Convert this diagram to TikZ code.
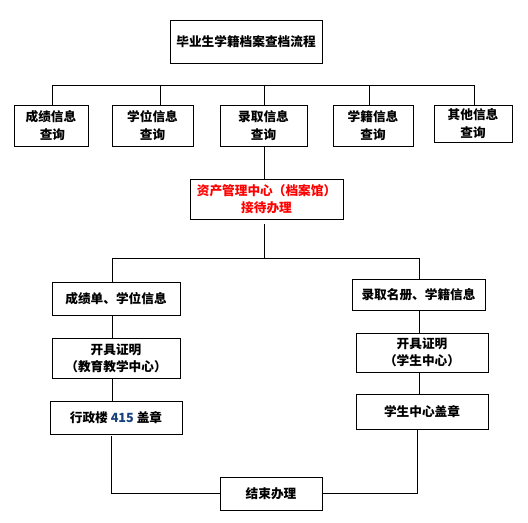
\documentclass[tikz,border=0pt]{standalone}
\usepackage{fontspec}
\newfontfamily\cjk{Noto Sans CJK SC}
\usepackage{xcolor}
\definecolor{numblue}{RGB}{25,65,125}
\usetikzlibrary{positioning}

\begin{document}
\begin{tikzpicture}[x=0.75pt,y=-0.75pt,
		box/.style={draw, line width=0.7pt, inner sep=0pt, align=center, font=\cjk\bfseries\fontsize{9.5}{13}\selectfont},
		size/.style 2 args={minimum width=#1*0.75pt, minimum height=#2*0.75pt},
		link/.style={line width=0.7pt}]
			\useasboundingbox (0,0) rectangle (528,522);

			% title
			\node[box, size={152}{43}] (title) at (246,41.5) {毕业生学籍档案查档流程};

			% query boxes
			\node[box, size={74}{41}] (q1) at (51,125.5) {成绩信息\\\ 查询};
			\node[box, size={81}{41}] (q2) at (152.5,125.5) {学位信息\\查询};
			\node[box, size={87}{41}] (q3) at (263.5,125.5) {录取信息\\查询};
			\node[box, size={80}{41}] (q4) at (373,125.5) {学籍信息\\查询};
			\node[box, size={78}{37}] (q5) at (473,123.5) {其他信息\\查询};

			% archive centre
			\node[box, text=red, size={153}{40}] (arc) at (266.5,199) {资产管理中心（档案馆）\\接待办理};

			% left branch
			\node[box, size={128}{33}] (l1) at (116,298.5) {成绩单、学位信息};
			\node[box, size={128}{40}] (l2) at (116,358) {开具证明\\（教育教学中心）};
			\node[box, size={132}{33}] (l3) at (116,417.5) {行政楼 {\color{numblue}415} 盖章};

			% right branch
			\node[box, size={133}{31}] (r1) at (418.5,294.5) {录取名册、学籍信息};
			\node[box, size={132}{39}] (r2) at (422,352.5) {开具证明\\（学生中心）};
			\node[box, size={132}{35}] (r3) at (422,411.5) {学生中心盖章};

			\node[box, size={102}{33}] (fin) at (271,493.5) {结束办理};

			% bus points
			\coordinate (t1) at (52,85);
			\coordinate (t2) at (160,85);
			\coordinate (t3) at (264,85);
			\coordinate (t4) at (369,85);
			\coordinate (t5) at (474,85);
			\coordinate (m0) at (264,224);
			\coordinate (m1) at (112,258);
			\coordinate (m2) at (419,258);
			\coordinate (e1) at (111,436);
			\coordinate (e2) at (417,429);

			\draw[link] (t1)--(t5);
			\foreach \i in {1,...,5}
				\draw[link] (t\i)--(t\i |- q\i.north);
			\draw[link] (t3 |- q3.south)--(t3 |- arc.north);

			\draw[link] (m0)--(m0 |- m1);
			\draw[link] (m1)--(m2);
			\draw[link] (m1)--(m1 |- l1.north);
			\draw[link] (m2)--(m2 |- r1.north);
			\draw[link] (m1 |- l1.south)--(m1 |- l2.north);
			\draw[link] (m1 |- l2.south)--(m1 |- l3.north);
			\draw[link] (m2 |- r1.south)--(m2 |- r2.north);
			\draw[link] (m2 |- r2.south)--(m2 |- r3.north);

			\draw[link] (e1) |- (fin.west);
			\draw[link] (e2) |- (fin.east);
		\end{tikzpicture}
\end{document}
